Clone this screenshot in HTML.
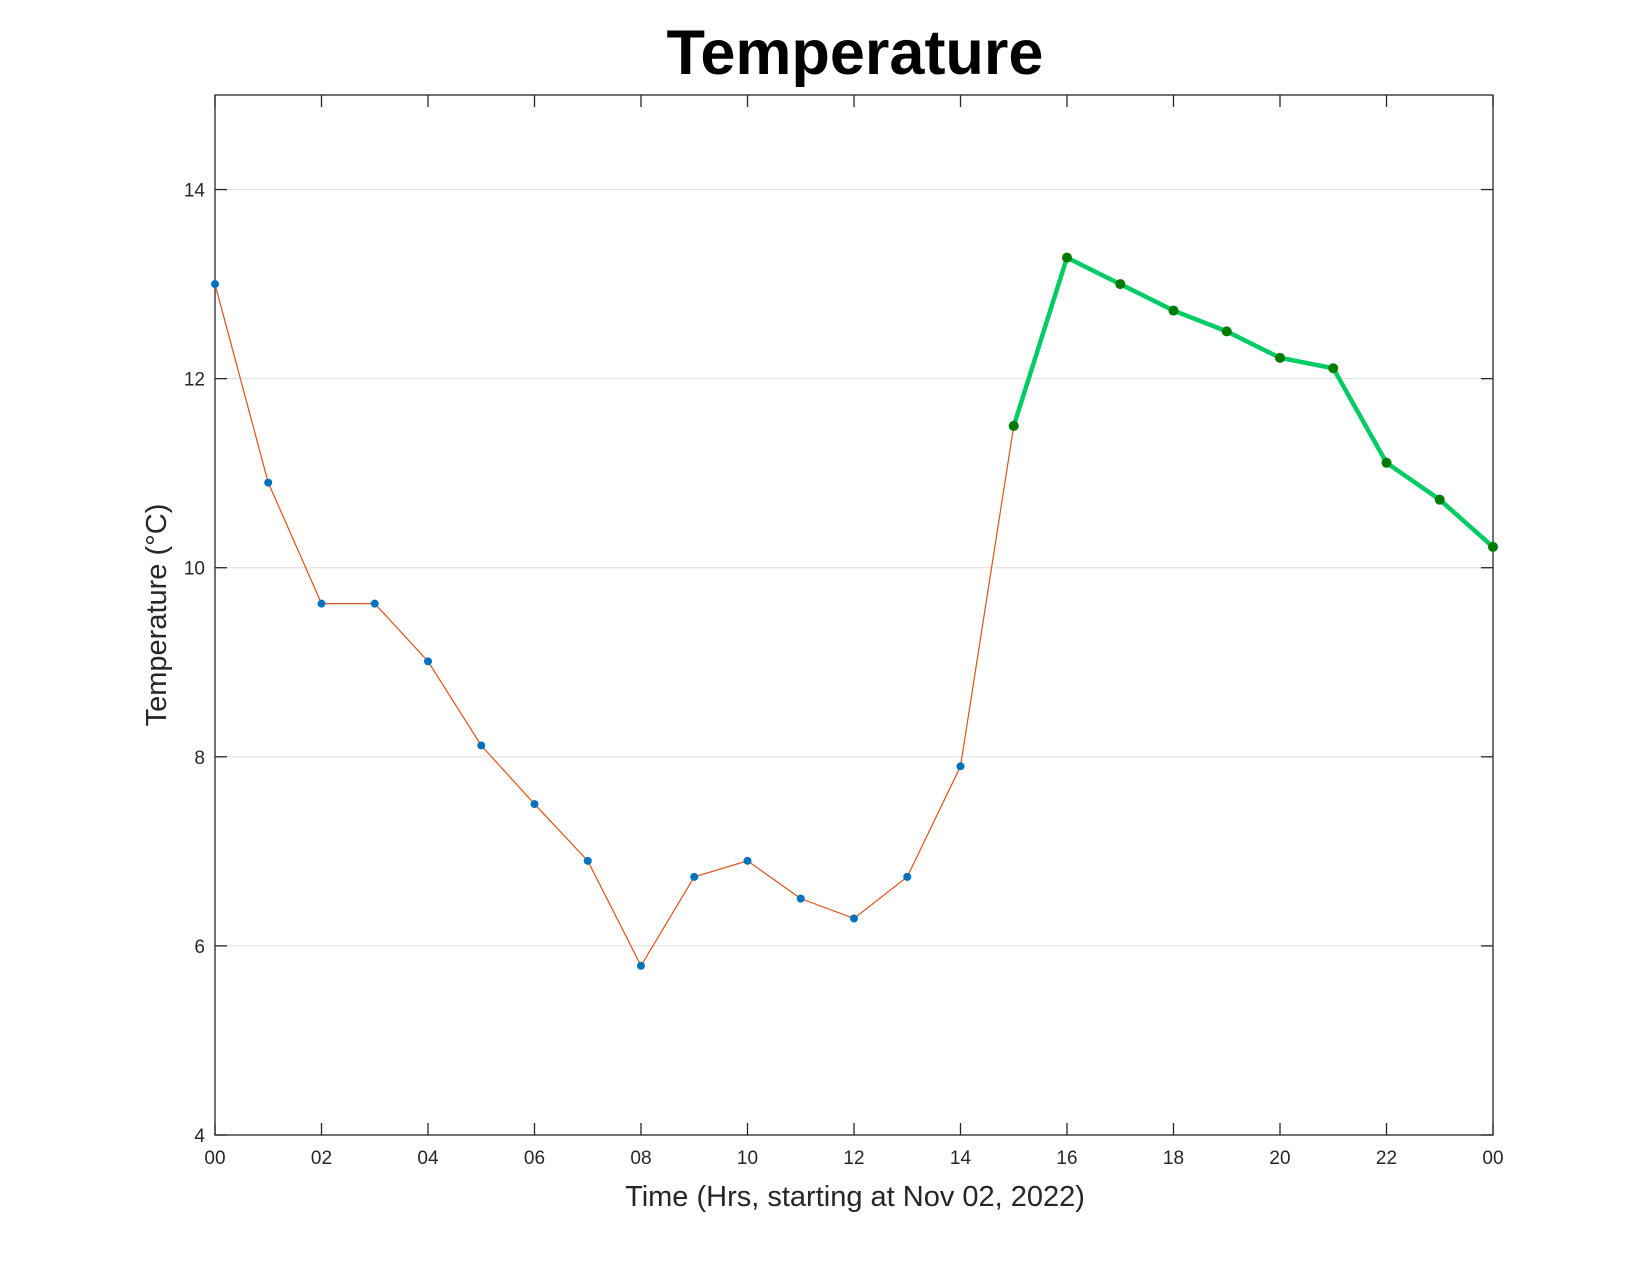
<!DOCTYPE html>
<html><head><meta charset="utf-8"><style>
html,body{margin:0;padding:0;background:#fff;}
svg{display:block;font-family:"Liberation Sans",Arial,sans-serif;}
</style></head><body>
<svg id="chart" width="1650" height="1275" viewBox="0 0 1650 1275">
<text x="855" y="74" text-anchor="middle" font-size="63" font-weight="bold" fill="#000">Temperature</text>
<g id="grid"></g>
<g id="axes"></g>
<g id="series"></g>
<text x="855" y="1206" text-anchor="middle" font-size="29" fill="#262626">Time (Hrs, starting at Nov 02, 2022)</text>
<text transform="translate(166,615) rotate(-90)" text-anchor="middle" font-size="29" fill="#262626">Temperature (°C)</text>
</svg>
<script>
const hoursPast = [0,1,2,3,4,5,6,7,8,9,10,11,12,13,14,15];
const tempPast = [13.0,10.9,9.62,9.62,9.01,8.12,7.5,6.9,5.79,6.73,6.9,6.5,6.29,6.73,7.9,11.5];
const hoursForecast = [15,16,17,18,19,20,21,22,23,24];
const tempForecast = [11.5,13.28,13.0,12.72,12.5,12.22,12.11,11.11,10.72,10.22];
const xTicks = [0,2,4,6,8,10,12,14,16,18,20,22,24];
const xTickLabels = ["00","02","04","06","08","10","12","14","16","18","20","22","00"];
const yTicks = [4,6,8,10,12,14];

const L=215,R=1493,T=95,B=1135,X0=0,X1=24,Y0=4,Y1=15;
const xs=v=>L+(v-X0)/(X1-X0)*(R-L);
const ys=v=>B-(v-Y0)/(Y1-Y0)*(B-T);
const NS="http://www.w3.org/2000/svg";
function mk(tag,attrs,parent){const e=document.createElementNS(NS,tag);for(const k in attrs)e.setAttribute(k,attrs[k]);parent.appendChild(e);return e;}
const grid=document.getElementById('grid'),axes=document.getElementById('axes'),series=document.getElementById('series');
yTicks.forEach(v=>{
  const g=mk('line',{x1:L,x2:R,y1:ys(v),y2:ys(v),stroke:'#dfdfdf','stroke-width':1},grid);
  
  
  mk('line',{x1:L,x2:L+12,y1:ys(v),y2:ys(v),stroke:'#262626','stroke-width':1.3},axes);
  mk('line',{x1:R,x2:R-12,y1:ys(v),y2:ys(v),stroke:'#262626','stroke-width':1.3},axes);
  const t=mk('text',{x:L-10,y:ys(v)+7,'text-anchor':'end','font-size':19,fill:'#262626'},axes);
  t.textContent=v;
  
  
});
xTicks.forEach((v,i)=>{
  mk('line',{x1:xs(v),x2:xs(v),y1:B,y2:B-12,stroke:'#262626','stroke-width':1.3},axes);
  mk('line',{x1:xs(v),x2:xs(v),y1:T,y2:T+12,stroke:'#262626','stroke-width':1.3},axes);
  const t=mk('text',{x:xs(v),y:B+29,'text-anchor':'middle','font-size':19,fill:'#262626'},axes);
  t.textContent=xTickLabels[i];
  
  
});
const box=mk('rect',{x:L,y:T,width:R-L,height:B-T,fill:'none',stroke:'#262626','stroke-width':1.3},axes);



const p1=mk('polyline',{points:hoursPast.map((h,i)=>xs(h)+','+ys(tempPast[i])).join(' '),fill:'none',stroke:'#d95319','stroke-width':1.2},series);


hoursPast.forEach((h,i)=>{
  const c=mk('circle',{cx:xs(h),cy:ys(tempPast[i]),r:4,fill:'#0072bd'},series);
  
  
});
const p2=mk('polyline',{points:hoursForecast.map((h,i)=>xs(h)+','+ys(tempForecast[i])).join(' '),fill:'none',stroke:'#00cc66','stroke-width':4.5,'stroke-linejoin':'round'},series);


hoursForecast.forEach((h,i)=>{
  const c=mk('circle',{cx:xs(h),cy:ys(tempForecast[i]),r:5,fill:'#007a00'},series);
  
  
});
</script>
</body></html>
